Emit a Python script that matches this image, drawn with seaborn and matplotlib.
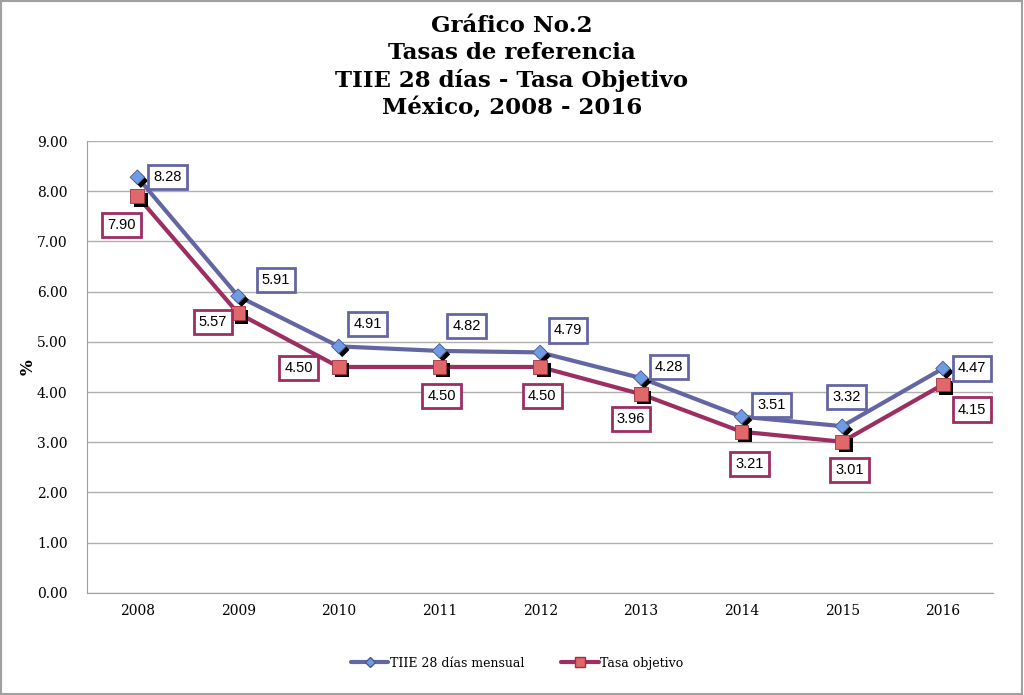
import matplotlib.pyplot as plt
import matplotlib.patheffects as pe
from matplotlib.lines import Line2D
from matplotlib.patches import Rectangle
import seaborn as sns
import pandas as pd

# datos
years = ['2008', '2009', '2010', '2011', '2012', '2013', '2014', '2015', '2016']
tiie = [8.28, 5.91, 4.91, 4.82, 4.79, 4.28, 3.51, 3.32, 4.47]
objetivo = [7.90, 5.57, 4.50, 4.50, 4.50, 3.96, 3.21, 3.01, 4.15]
yticks = [0, 1, 2, 3, 4, 5, 6, 7, 8, 9]

# desplazamiento de etiquetas (pixeles)
off_tiie = [(30, 0), (38, 16), (29, 22), (27, 25), (28, 22), (28, 11), (30, 12), (4, 29), (29, 0)]
off_obj = [(-16, -29), (-25, -9), (-40, -1), (2, -29), (2, -29), (-10, -25), (8, -32), (7, -28), (29, -25)]

c_tiie, c_obj = '#6466A3', '#9C2E62'
m_tiie, m_obj = '#6F9BE3', '#E0676A'

df = pd.DataFrame({'x': range(len(years)), 'tiie': tiie, 'obj': objetivo})

sns.set_style('white')
plt.rcParams['font.family'] = ['DejaVu Serif']
plt.rcParams['text.color'] = 'black'
plt.rcParams['xtick.color'] = 'black'
plt.rcParams['ytick.color'] = 'black'
plt.rcParams['axes.labelcolor'] = 'black'

fig = plt.figure(figsize=(10.24, 6.95), dpi=100)
ax = fig.add_axes([0.085, 0.147, 0.885, 0.650])

sns.lineplot(data=df, x='x', y='tiie', ax=ax, color=c_tiie, linewidth=3)
sns.lineplot(data=df, x='x', y='obj', ax=ax, color=c_obj, linewidth=3)

shadow = [pe.SimplePatchShadow(offset=(2.5, -2.5), shadow_rgbFace='black', alpha=1), pe.Normal()]
ax.scatter(df['x'], df['tiie'], marker='D', s=55, color=m_tiie, edgecolor='#4A5A8C',
           linewidth=0.6, zorder=4, path_effects=shadow)
ax.scatter(df['x'], df['obj'], marker='s', s=100, color=m_obj, edgecolor='#A03040',
           linewidth=0.6, zorder=4, path_effects=shadow)

for i in range(len(years)):
    ax.annotate(f'{tiie[i]:.2f}', (i, tiie[i]), xytext=off_tiie[i], textcoords='offset pixels',
                ha='center', va='center', fontsize=10.5, family='Liberation Sans', zorder=6,
                bbox=dict(boxstyle='square,pad=0.35', fc='white', ec=c_tiie, lw=2))
    ax.annotate(f'{objetivo[i]:.2f}', (i, objetivo[i]), xytext=off_obj[i], textcoords='offset pixels',
                ha='center', va='center', fontsize=10.5, family='Liberation Sans', zorder=6,
                bbox=dict(boxstyle='square,pad=0.35', fc='white', ec=c_obj, lw=2))

ax.set_xlim(-0.5, len(years) - 0.5)
ax.set_ylim(0, 9)
ax.set_yticks(yticks)
ax.set_yticklabels([f'{v:.2f}' for v in yticks], fontsize=10)
ax.set_xticks(range(len(years)))
ax.set_xticklabels(years, fontsize=10)
ax.tick_params(axis='both', length=0, pad=8)
ax.tick_params(axis='y', pad=14)
ax.yaxis.grid(True, color='#B0B0B0', linewidth=1)
ax.set_axisbelow(True)
for s in ['top', 'right']:
    ax.spines[s].set_visible(False)
for s in ['left', 'bottom']:
    ax.spines[s].set_color('#A0A0A0')
ax.set_xlabel('')
ax.set_ylabel('%', fontsize=12, fontweight='bold', labelpad=0)

fig.text(0.5, 0.978, 'Gráfico No.2\nTasas de referencia\nTIIE 28 días - Tasa Objetivo\nMéxico, 2008 - 2016',
         ha='center', va='top', fontsize=16.5, fontweight='bold', linespacing=1.27)

handles = [
    Line2D([0], [0], color=c_tiie, lw=3, marker='D', markersize=5, markerfacecolor=m_tiie,
           markeredgecolor='#4A5A8C'),
    Line2D([0], [0], color=c_obj, lw=3, marker='s', markersize=7, markerfacecolor=m_obj,
           markeredgecolor='#A03040'),
]
fig.legend(handles, ['TIIE 28 días mensual', 'Tasa objetivo'], loc='center', bbox_to_anchor=(0.505, 0.046),
           ncol=2, frameon=False, fontsize=9, handlelength=3, handletextpad=0.1, columnspacing=3)

fig.add_artist(Rectangle((0.001, 0.001), 0.997, 0.997, transform=fig.transFigure, fill=False,
                         ec='#A0A0A0', lw=1.5))

fig.savefig('out.png', dpi=100)
